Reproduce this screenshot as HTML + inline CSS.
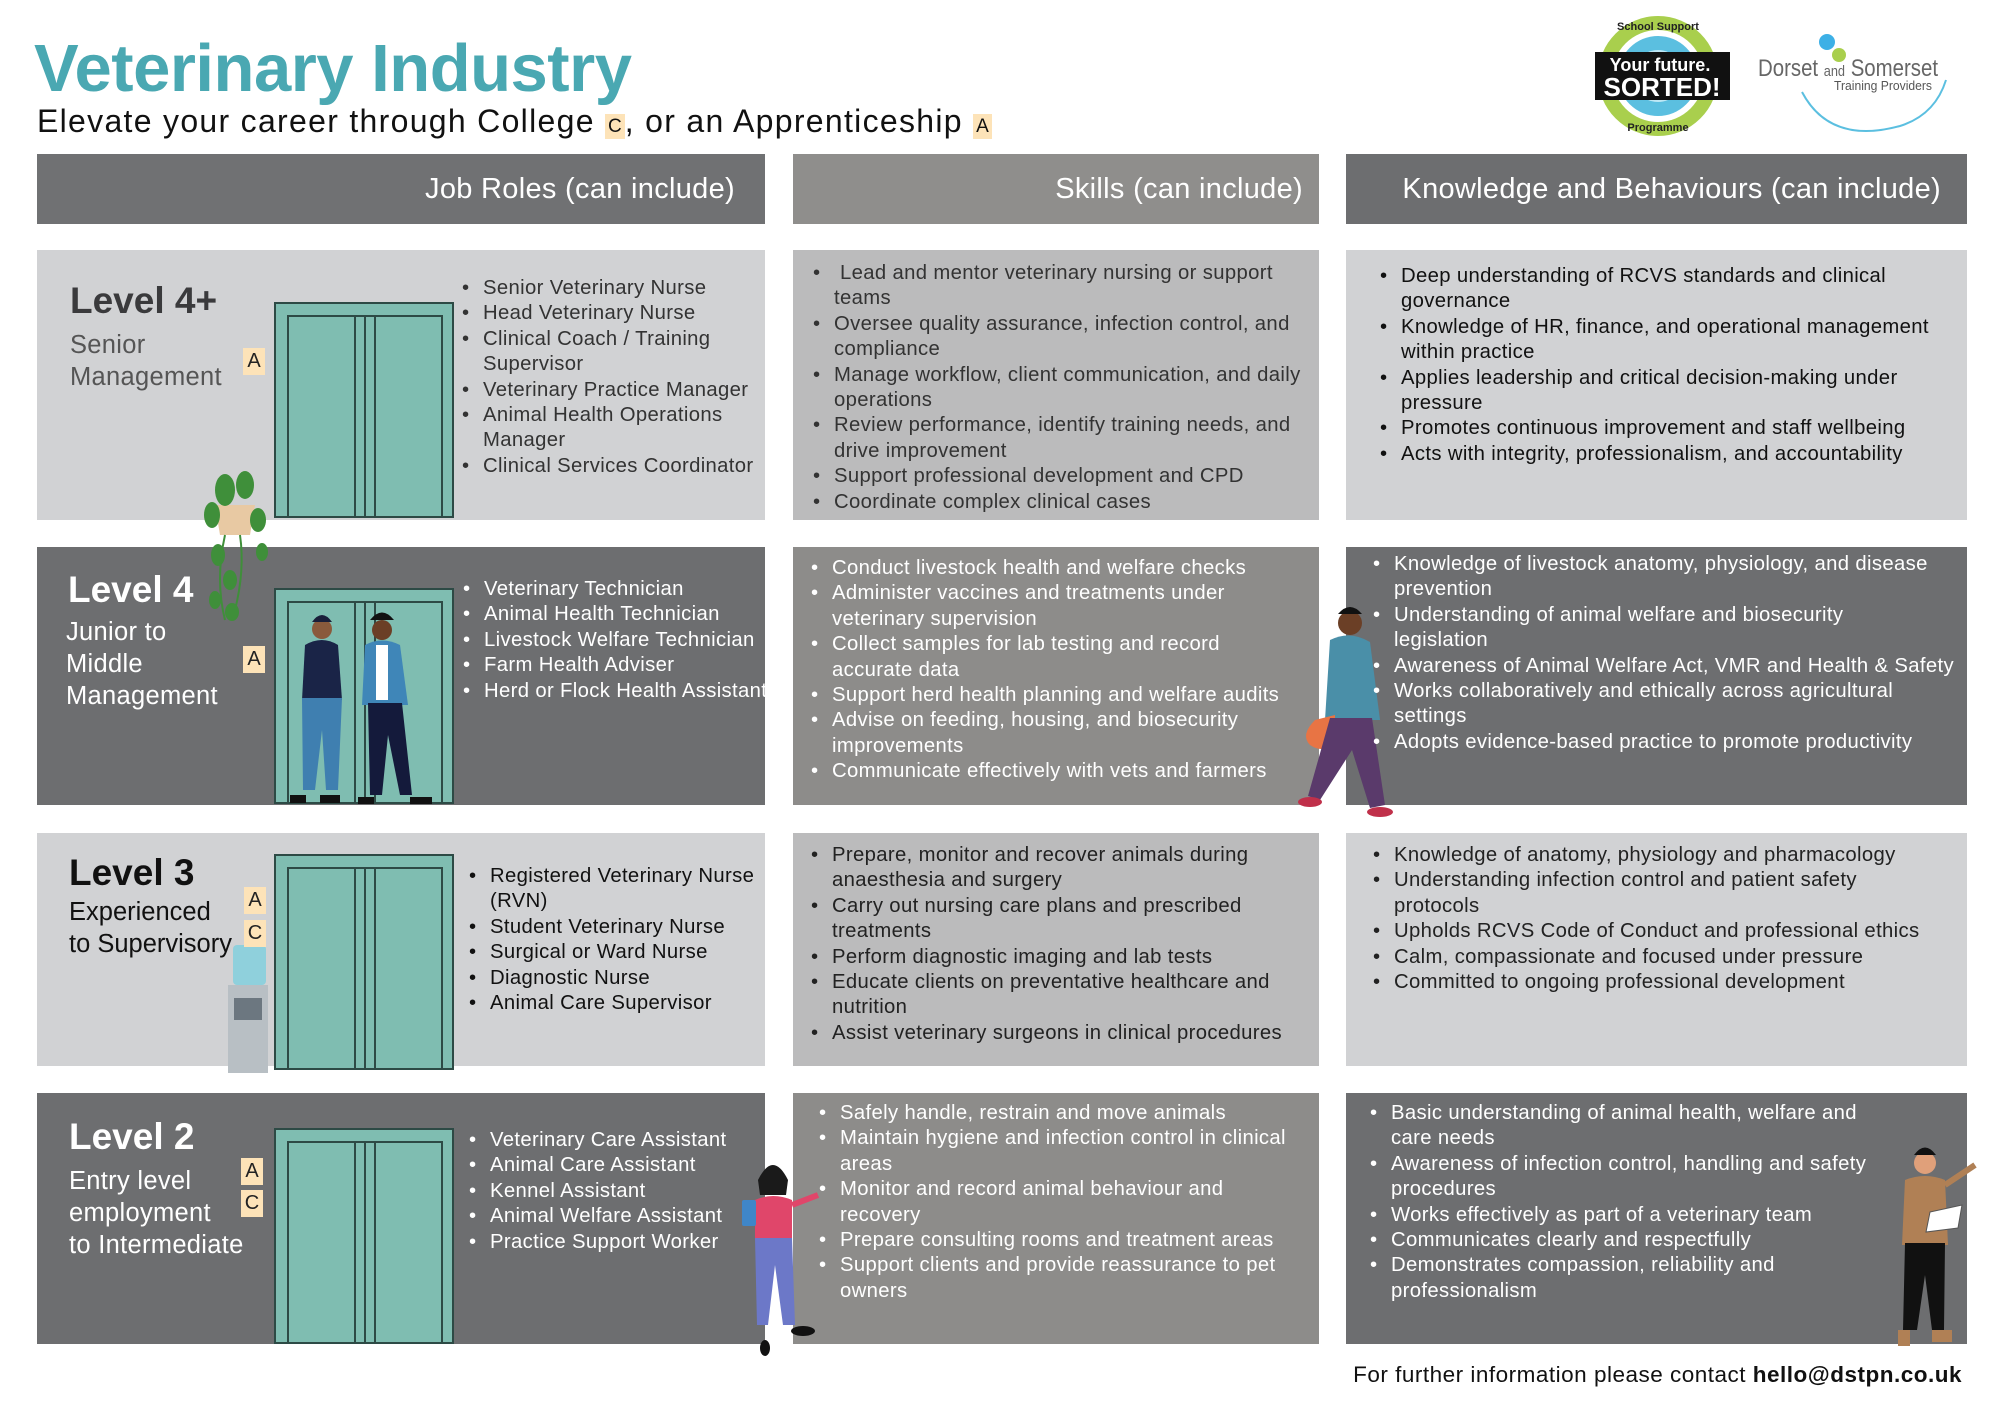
<!DOCTYPE html>
<html><head><meta charset="utf-8">
<style>
*{margin:0;padding:0;box-sizing:border-box}
body{width:2000px;height:1414px;background:#fff;position:relative;overflow:hidden;font-family:"Liberation Sans",Arial,sans-serif;color:#222}
.a{position:absolute}
.box{position:absolute}
.hdr{position:absolute;color:#fff;font-size:29px;text-align:right;line-height:70px;padding-right:30px;letter-spacing:0.3px}
.lst{position:absolute;font-size:20.3px;letter-spacing:0.35px;line-height:25.4px;white-space:nowrap}
.lst div{position:relative}
.lst div::before{content:"•";position:absolute;left:-21px}
.w{color:#fff}
.lvl{position:absolute;font-weight:bold;font-size:37px;line-height:40px}
.sub{position:absolute;font-size:25.5px;line-height:32px;letter-spacing:0.3px}
.bd{position:absolute;width:22px;height:27px;background:#fde3b8;color:#222;font-size:20px;text-align:center;line-height:27px}
</style></head><body>

<div class="a" style="left:34px;top:30px;font-size:67px;font-weight:bold;color:#4aa8b2;letter-spacing:-0.5px">Veterinary Industry</div>
<div class="a" style="left:37px;top:103px;font-size:32px;letter-spacing:1.3px;color:#111;white-space:nowrap">Elevate your career through College <span style="background:#fde3b8;font-size:19px;padding:2px 3px;letter-spacing:0">C</span>, or an Apprenticeship <span style="background:#fde3b8;font-size:19px;padding:2px 3px;letter-spacing:0">A</span></div>

<!-- logos -->
<svg class="a" style="left:1580px;top:0" width="420" height="150">
<circle cx="78" cy="76" r="60" fill="#a9cf4d"/>
<circle cx="78" cy="76" r="46" fill="#fff"/>
<circle cx="78" cy="76" r="40" fill="#5bbfe0"/>
<circle cx="78" cy="76" r="26" fill="#bfe8f5"/>
<text x="78" y="30" font-family="Liberation Sans" font-size="11" font-weight="bold" text-anchor="middle" fill="#222">School Support</text>
<text x="78" y="131" font-family="Liberation Sans" font-size="11" font-weight="bold" text-anchor="middle" fill="#222">Programme</text>
<rect x="15" y="52" width="135" height="48" fill="#111"/>
<text x="80" y="71" font-family="Liberation Sans" font-size="18" font-weight="bold" text-anchor="middle" fill="#fff">Your future.</text>
<text x="82" y="96" font-family="Liberation Sans" font-size="26" font-weight="bold" text-anchor="middle" fill="#fff">SORTED!</text>
<circle cx="247" cy="42" r="8" fill="#3db0e6"/>
<circle cx="259" cy="55" r="7" fill="#a9cf4d"/>
<text x="178" y="76" font-family="Liberation Sans" font-size="24" fill="#666" textLength="180" lengthAdjust="spacingAndGlyphs">Dorset <tspan font-size="15">and</tspan> Somerset</text>
<text x="254" y="90" font-family="Liberation Sans" font-size="13" fill="#555" textLength="98" lengthAdjust="spacingAndGlyphs">Training Providers</text>
<path d="M222 92 Q250 145 320 126 Q355 115 366 80" fill="none" stroke="#5bbfe0" stroke-width="2"/>
</svg>

<!-- headers -->
<div class="hdr" style="left:37px;top:154px;width:728px;height:70px;background:#707173">Job Roles (can include)</div>
<div class="hdr" style="left:793px;top:154px;width:526px;height:70px;background:#8f8e8c;padding-right:16px">Skills (can include)</div>
<div class="hdr" style="left:1346px;top:154px;width:621px;height:70px;background:#6d6e70;padding-right:26px">Knowledge and Behaviours (can include)</div>

<!-- row boxes -->
<div class="box" style="left:37px;top:250px;width:728px;height:270px;background:#d1d2d4"></div>
<div class="box" style="left:793px;top:250px;width:526px;height:270px;background:#bbbbbc"></div>
<div class="box" style="left:1346px;top:250px;width:621px;height:270px;background:#d1d2d4"></div>

<div class="box" style="left:37px;top:547px;width:728px;height:258px;background:#6d6e70"></div>
<div class="box" style="left:793px;top:547px;width:526px;height:258px;background:#8d8c8a"></div>
<div class="box" style="left:1346px;top:547px;width:621px;height:258px;background:#6d6e70"></div>

<div class="box" style="left:37px;top:833px;width:728px;height:233px;background:#d1d2d4"></div>
<div class="box" style="left:793px;top:833px;width:526px;height:233px;background:#bbbbbc"></div>
<div class="box" style="left:1346px;top:833px;width:621px;height:233px;background:#d1d2d4"></div>

<div class="box" style="left:37px;top:1093px;width:728px;height:251px;background:#6d6e70"></div>
<div class="box" style="left:793px;top:1093px;width:526px;height:251px;background:#8d8c8a"></div>
<div class="box" style="left:1346px;top:1093px;width:621px;height:251px;background:#6d6e70"></div>

<!-- elevators -->
<svg class="a" style="left:0;top:0" width="2000" height="1414">
<defs>
<g id="el">
<rect x="0" y="0" width="178" height="214" fill="#7fbdb1" stroke="#2d4a45" stroke-width="2"/>
<rect x="13" y="13" width="67" height="201" fill="#7fbdb1" stroke="#2d4a45" stroke-width="2"/>
<rect x="80" y="13" width="10" height="201" fill="#7fbdb1" stroke="#2d4a45" stroke-width="2"/>
<rect x="90" y="13" width="10" height="201" fill="#7fbdb1" stroke="#2d4a45" stroke-width="2"/>
<rect x="100" y="13" width="67" height="201" fill="#7fbdb1" stroke="#2d4a45" stroke-width="2"/>
</g>
</defs>
<use href="#el" x="275" y="303"/>
<use href="#el" x="275" y="589"/>
<use href="#el" x="275" y="855"/>
<use href="#el" x="275" y="1129"/>

<!-- plant -->
<path d="M215 505 L255 505 L250 535 L220 535 Z" fill="#e8c9a3"/>
<g fill="#3f8f3a">
<ellipse cx="225" cy="490" rx="10" ry="16"/><ellipse cx="245" cy="485" rx="9" ry="14"/><ellipse cx="212" cy="515" rx="8" ry="13"/>
<ellipse cx="258" cy="520" rx="8" ry="12"/><ellipse cx="218" cy="555" rx="7" ry="11"/><ellipse cx="230" cy="580" rx="7" ry="10"/>
<ellipse cx="215" cy="600" rx="6" ry="9"/><ellipse cx="232" cy="612" rx="7" ry="9"/><ellipse cx="262" cy="552" rx="6" ry="9"/>
</g>
<path d="M225 535 Q215 580 225 620 M240 535 Q245 570 235 610" stroke="#3f8f3a" stroke-width="2" fill="none"/>

<!-- two men row2 -->
<g>
<circle cx="322" cy="629" r="10" fill="#8a5a3c"/><path d="M312 622 Q322 608 332 622 Z" fill="#1a1f3a"/>
<path d="M305 645 Q322 635 338 645 L342 700 L302 700 Z" fill="#1a2447"/>
<path d="M302 698 L342 698 L338 790 L326 790 L322 730 L315 790 L303 790 Z" fill="#3f7fb0"/>
<rect x="290" y="795" width="16" height="8" fill="#111"/><rect x="320" y="795" width="20" height="8" fill="#111"/>
<circle cx="382" cy="630" r="10" fill="#6b3f26"/><path d="M370 620 Q382 605 394 620 Z" fill="#111"/>
<path d="M365 645 Q382 636 400 645 L408 705 L362 705 Z" fill="#3f86b8"/>
<rect x="376" y="645" width="12" height="55" fill="#fff"/>
<path d="M368 703 L402 703 L412 795 L400 795 L388 735 L382 795 L370 795 Z" fill="#141a3b"/>
<rect x="358" y="797" width="16" height="7" fill="#111"/><rect x="410" y="797" width="22" height="7" fill="#111"/>
</g>

<!-- walking man -->
<g>
<circle cx="1350" cy="623" r="12" fill="#6b3f26"/><path d="M1338 614 Q1350 600 1362 614 Z" fill="#111"/>
<path d="M1330 640 Q1350 630 1370 642 L1380 720 L1325 720 Z" fill="#4a8fa8"/>
<path d="M1315 720 Q1300 735 1310 745 Q1325 755 1335 740 L1335 715 Z" fill="#e87444"/>
<path d="M1330 718 L1372 718 L1385 805 L1370 808 L1352 750 L1320 800 L1308 796 Z" fill="#5a3a6b"/>
<ellipse cx="1310" cy="802" rx="12" ry="5" fill="#c0304a"/><ellipse cx="1380" cy="812" rx="13" ry="5" fill="#c0304a"/>
</g>

<!-- water cooler -->
<rect x="233" y="945" width="33" height="40" fill="#8fd0dc" rx="4"/>
<rect x="228" y="985" width="40" height="88" fill="#b8bfc4"/>
<rect x="234" y="998" width="28" height="22" fill="#6c7780"/>

<!-- woman row4 -->
<g>
<circle cx="773" cy="1180" r="11" fill="#e0a07a"/><path d="M758 1180 Q773 1150 788 1180 L786 1195 L760 1195 Z" fill="#1a1a1a"/>
<path d="M755 1200 Q773 1192 792 1200 L792 1240 L755 1240 Z" fill="#e0466a"/>
<rect x="742" y="1200" width="14" height="26" fill="#3f86c8" rx="2"/>
<path d="M792 1205 L818 1195" stroke="#e0466a" stroke-width="6"/>
<path d="M755 1238 L792 1238 L795 1325 L783 1325 L775 1265 L768 1325 L757 1325 Z" fill="#6c78c8"/>
<ellipse cx="765" cy="1348" rx="5" ry="8" fill="#111"/><ellipse cx="803" cy="1331" rx="12" ry="5" fill="#111"/>
</g>

<!-- man row4 right -->
<g>
<circle cx="1925" cy="1163" r="11" fill="#e0a07a"/><path d="M1914 1155 Q1925 1140 1936 1155 Z" fill="#111"/>
<path d="M1905 1180 Q1925 1172 1945 1180 L1948 1245 L1902 1245 Z" fill="#b08055"/>
<path d="M1930 1212 L1962 1205 L1958 1228 L1926 1232 Z" fill="#fff" stroke="#555"/>
<path d="M1945 1185 L1975 1165" stroke="#b08055" stroke-width="6"/>
<path d="M1905 1243 L1945 1243 L1944 1330 L1932 1330 L1925 1275 L1917 1330 L1903 1330 Z" fill="#111"/>
<rect x="1898" y="1330" width="12" height="16" fill="#b08055"/><rect x="1932" y="1330" width="20" height="12" fill="#b08055"/>
</g>
</svg>

<!-- level labels -->
<div class="lvl" style="left:70px;top:281px;color:#3a3a3c">Level 4+</div>
<div class="sub" style="left:70px;top:329px;color:#555">Senior<br>Management</div>
<div class="bd" style="left:243px;top:348px">A</div>

<div class="lvl w" style="left:68px;top:570px">Level 4</div>
<div class="sub w" style="left:66px;top:616px">Junior to<br>Middle<br>Management</div>
<div class="bd" style="left:243px;top:646px">A</div>

<div class="lvl" style="left:69px;top:853px;color:#111">Level 3</div>
<div class="sub" style="left:69px;top:896px;color:#111;letter-spacing:0">Experienced<br>to Supervisory</div>
<div class="bd" style="left:244px;top:887px">A</div>
<div class="bd" style="left:244px;top:920px">C</div>

<div class="lvl w" style="left:69px;top:1117px">Level 2</div>
<div class="sub w" style="left:69px;top:1165px">Entry level<br>employment<br>to Intermediate</div>
<div class="bd" style="left:241px;top:1158px">A</div>
<div class="bd" style="left:241px;top:1190px">C</div>

<!-- row1 lists -->
<div class="lst" style="left:483px;top:276px;color:#333">
<div>Senior Veterinary Nurse</div><div>Head Veterinary Nurse</div><div>Clinical Coach / Training<br>Supervisor</div><div>Veterinary Practice Manager</div><div>Animal Health Operations<br>Manager</div><div>Clinical Services Coordinator</div>
</div>
<div class="lst" style="left:834px;top:261px;color:#333">
<div>&nbsp;Lead and mentor veterinary nursing or support<br>teams</div><div>Oversee quality assurance, infection control, and<br>compliance</div><div>Manage workflow, client communication, and daily<br>operations</div><div>Review performance, identify training needs, and<br>drive improvement</div><div>Support professional development and CPD</div><div>Coordinate complex clinical cases</div>
</div>
<div class="lst" style="left:1401px;top:264px;color:#111">
<div>Deep understanding of RCVS standards and clinical<br>governance</div><div>Knowledge of HR, finance, and operational management<br>within practice</div><div>Applies leadership and critical decision-making under<br>pressure</div><div>Promotes continuous improvement and staff wellbeing</div><div>Acts with integrity, professionalism, and accountability</div>
</div>

<!-- row2 -->
<div class="lst w" style="left:484px;top:577px">
<div>Veterinary Technician</div><div>Animal Health Technician</div><div>Livestock Welfare Technician</div><div>Farm Health Adviser</div><div>Herd or Flock Health Assistant</div>
</div>
<div class="lst w" style="left:832px;top:556px">
<div>Conduct livestock health and welfare checks</div><div>Administer vaccines and treatments under<br>veterinary supervision</div><div>Collect samples for lab testing and record<br>accurate data</div><div>Support herd health planning and welfare audits</div><div>Advise on feeding, housing, and biosecurity<br>improvements</div><div>Communicate effectively with vets and farmers</div>
</div>
<div class="lst w" style="left:1394px;top:552px">
<div>Knowledge of livestock anatomy, physiology, and disease<br>prevention</div><div>Understanding of animal welfare and biosecurity<br>legislation</div><div>Awareness of Animal Welfare Act, VMR and Health &amp; Safety</div><div>Works collaboratively and ethically across agricultural<br>settings</div><div>Adopts evidence-based practice to promote productivity</div>
</div>

<!-- row3 -->
<div class="lst" style="left:490px;top:864px;color:#111">
<div>Registered Veterinary Nurse<br>(RVN)</div><div>Student Veterinary Nurse</div><div>Surgical or Ward Nurse</div><div>Diagnostic Nurse</div><div>Animal Care Supervisor</div>
</div>
<div class="lst" style="left:832px;top:843px;color:#222">
<div>Prepare, monitor and recover animals during<br>anaesthesia and surgery</div><div>Carry out nursing care plans and prescribed<br>treatments</div><div>Perform diagnostic imaging and lab tests</div><div>Educate clients on preventative healthcare and<br>nutrition</div><div>Assist veterinary surgeons in clinical procedures</div>
</div>
<div class="lst" style="left:1394px;top:843px;color:#222">
<div>Knowledge of anatomy, physiology and pharmacology</div><div>Understanding infection control and patient safety<br>protocols</div><div>Upholds RCVS Code of Conduct and professional ethics</div><div>Calm, compassionate and focused under pressure</div><div>Committed to ongoing professional development</div>
</div>

<!-- row4 -->
<div class="lst w" style="left:490px;top:1128px">
<div>Veterinary Care Assistant</div><div>Animal Care Assistant</div><div>Kennel Assistant</div><div>Animal Welfare Assistant</div><div>Practice Support Worker</div>
</div>
<div class="lst w" style="left:840px;top:1101px">
<div>Safely handle, restrain and move animals</div><div>Maintain hygiene and infection control in clinical<br>areas</div><div>Monitor and record animal behaviour and<br>recovery</div><div>Prepare consulting rooms and treatment areas</div><div>Support clients and provide reassurance to pet<br>owners</div>
</div>
<div class="lst w" style="left:1391px;top:1101px">
<div>Basic understanding of animal health, welfare and<br>care needs</div><div>Awareness of infection control, handling and safety<br>procedures</div><div>Works effectively as part of a veterinary team</div><div>Communicates clearly and respectfully</div><div>Demonstrates compassion, reliability and<br>professionalism</div>
</div>

<div class="a" style="left:1300px;top:1362px;width:662px;text-align:right;font-size:22.5px;letter-spacing:0.5px;color:#111;white-space:nowrap">For further information please contact <b>hello@dstpn.co.uk</b></div>
</body></html>
